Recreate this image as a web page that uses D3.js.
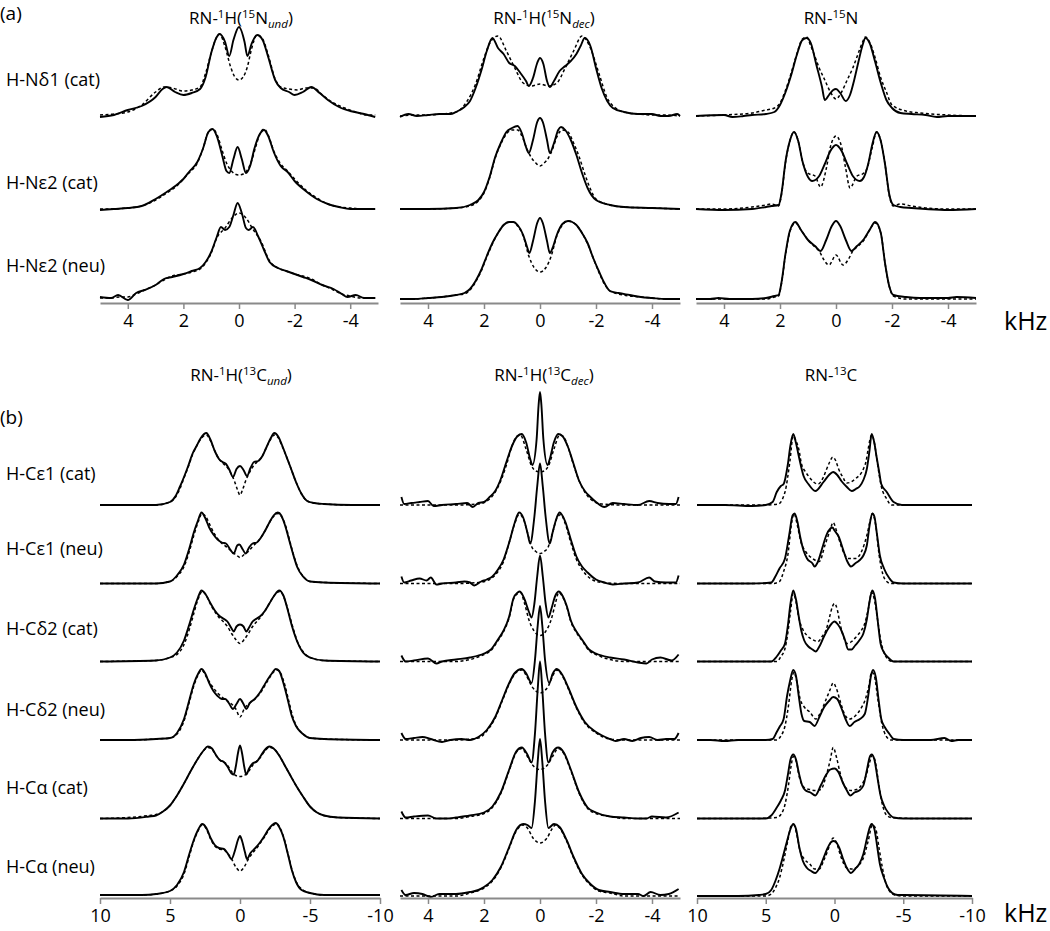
<!DOCTYPE html>
<html><head><meta charset="utf-8">
<script src="https://cdn.jsdelivr.net/npm/d3@7"></script>
<style>
body{margin:0;background:#fff;}
svg{display:block;font-family:"Open Sans",sans-serif;}
</style></head><body>
<svg id="chart" width="1050" height="931"></svg>
<script>
// ---------------- DATA (kHz, intensity) ----------------
// (a) RN-1H(15N und)
const aUndExp1=[[5,-1],[4.5,1],[4,6],[3.5,10],[3,19],[2.75,27],[2.6,29],[2.3,24],[2,21],[1.7,23],[1.4,27],[1.2,39],[1,63],[0.8,79],[0.7,82],[0.5,74],[0.35,60],[0.2,76],[0,89],[-0.2,74],[-0.3,60],[-0.45,72],[-0.65,81],[-0.85,76],[-1.05,59],[-1.3,36],[-1.5,28],[-1.8,24],[-2,21],[-2.3,24],[-2.6,29],[-2.9,23],[-3.2,16],[-3.6,9],[-4,5],[-4.5,2],[-4.9,-1]];
const aUndSim1=[[5,1],[4.5,2],[4,4],[3.5,11],[3,24],[2.7,29],[2.4,28],[2,25],[1.7,26],[1.4,29],[1.2,43],[1,63],[0.8,79],[0.7,82],[0.5,69],[0.3,49],[0.15,39],[0,36],[-0.15,39],[-0.3,49],[-0.45,67],[-0.65,81],[-0.85,77],[-1.05,61],[-1.3,37],[-1.5,29],[-1.8,27],[-2.1,26],[-2.4,28],[-2.7,28],[-3,21],[-3.4,13],[-3.8,8],[-4.2,4],[-4.6,1],[-4.9,1]];
const aUndExp2=[[5,-1],[4.5,0],[4,1],[3.5,3],[3,10],[2.6,17],[2.2,25],[2,30],[1.8,37],[1.5,47],[1.3,60],[1.1,77],[0.95,80],[0.8,73],[0.6,53],[0.45,38],[0.35,36],[0.2,50],[0.05,62],[-0.1,50],[-0.25,36],[-0.4,43],[-0.55,60],[-0.75,75],[-0.9,79],[-1.05,73],[-1.25,57],[-1.5,43],[-1.75,37],[-2,28],[-2.4,18],[-2.8,10],[-3.2,5],[-3.6,2],[-4,0],[-4.5,0],[-4.9,0]];
const aUndSim2=[[5,0],[4.5,0],[4,1],[3.5,3],[3,9],[2.6,16],[2.2,24],[2,30],[1.8,36],[1.5,46],[1.3,60],[1.1,77],[0.95,80],[0.8,75],[0.6,58],[0.45,46],[0.3,39],[0.15,35],[0,34],[-0.15,35],[-0.3,39],[-0.45,48],[-0.6,62],[-0.75,75],[-0.9,80],[-1.05,74],[-1.25,58],[-1.5,45],[-1.75,38],[-2,30],[-2.4,19],[-2.8,11],[-3.2,5],[-3.6,2],[-4,1],[-4.5,0],[-4.9,0]];
const aUndExp3=[[5,2],[4.6,1],[4.35,4],[4,-1],[3.7,6],[3.4,9],[3,14],[2.7,20],[2.4,22],[2,25],[1.7,28],[1.4,31],[1.2,37],[1,47],[0.8,62],[0.65,72],[0.5,69],[0.35,72],[0.2,84],[0.05,96],[-0.1,86],[-0.25,71],[-0.35,69],[-0.5,72],[-0.7,62],[-0.9,49],[-1.1,37],[-1.4,31],[-1.7,28],[-2,25],[-2.3,22],[-2.6,19],[-3,14],[-3.4,10],[-3.7,5],[-3.9,2],[-4.2,4],[-4.5,1],[-4.9,1]];
const aUndSim3=[[5,1],[4.6,1],[4.3,2],[4,2],[3.7,5],[3.4,9],[3,14],[2.7,19],[2.4,23],[2,25],[1.7,27],[1.4,30],[1.2,36],[1,46],[0.8,61],[0.5,71],[0.25,81],[0,86],[-0.25,81],[-0.5,70],[-0.8,57],[-1.1,38],[-1.4,31],[-1.7,28],[-2,25],[-2.3,23],[-2.6,20],[-3,14],[-3.4,9],[-3.7,5],[-4,3],[-4.4,1],[-4.9,1]];
// (a) RN-1H(15N dec)
const aDecExp1=[[5,-1],[4.7,2],[4.4,0],[4,1],[3.6,2],[3.2,2],[3,4],[2.7,9],[2.5,15],[2.3,28],[2.1,45],[1.9,65],[1.7,78],[1.5,68],[1.3,62],[1.1,53],[0.9,50],[0.7,43],[0.5,35],[0.4,30],[0.25,38],[0.1,53],[0,58],[-0.12,52],[-0.25,35],[-0.35,29],[-0.5,35],[-0.7,45],[-0.9,50],[-1.1,55],[-1.3,62],[-1.45,70],[-1.6,78],[-1.8,70],[-2,48],[-2.2,28],[-2.4,15],[-2.6,8],[-3,4],[-3.5,2],[-4,2],[-4.3,0],[-4.6,0],[-4.9,2],[-5,0]];
const aDecSim1=[[5,0],[4.5,1],[4,1],[3.5,2],[3,4],[2.6,15],[2.3,32],[2,58],[1.75,75],[1.5,80],[1.2,65],[0.9,48],[0.6,33],[0.3,30],[0,32],[-0.3,30],[-0.6,33],[-0.9,48],[-1.2,65],[-1.5,80],[-1.8,68],[-2.1,43],[-2.4,18],[-2.7,8],[-3,4],[-3.5,2],[-4,1],[-4.5,1],[-5,0]];
const aDecExp2=[[5,0],[4,0],[3,1],[2.5,4],[2.2,9],[2,17],[1.8,32],[1.6,52],[1.4,66],[1.2,77],[1,81],[0.8,83],[0.65,76],[0.5,62],[0.4,56],[0.25,69],[0.1,87],[0,91],[-0.1,87],[-0.25,69],[-0.35,56],[-0.5,66],[-0.65,79],[-0.75,82],[-0.9,79],[-1.1,69],[-1.3,54],[-1.5,36],[-1.7,21],[-2,9],[-2.5,4],[-3,2],[-4,1],[-5,0]];
const aDecSim2=[[5,0],[4,0],[3,1],[2.5,3],[2.2,8],[2,16],[1.8,31],[1.6,51],[1.4,65],[1.2,75],[1,79],[0.8,79],[0.6,70],[0.45,59],[0.3,51],[0.15,46],[0,43],[-0.15,46],[-0.3,51],[-0.45,60],[-0.6,72],[-0.8,79],[-1,77],[-1.2,66],[-1.4,52],[-1.6,35],[-1.8,20],[-2,10],[-2.5,4],[-3,2],[-4,1],[-5,0]];
const aDecExp3=[[5,0],[4.5,0],[4,1],[3.5,2],[3,4],[2.7,6],[2.5,10],[2.3,18],[2.1,29],[1.9,43],[1.7,56],[1.5,66],[1.3,74],[1.1,77],[0.95,77],[0.8,74],[0.6,64],[0.45,51],[0.38,46],[0.25,58],[0.1,76],[0,81],[-0.1,76],[-0.25,58],[-0.35,46],[-0.45,51],[-0.6,64],[-0.8,75],[-1,78],[-1.15,77],[-1.3,74],[-1.5,66],[-1.7,56],[-1.9,41],[-2.1,28],[-2.3,16],[-2.5,8],[-2.8,6],[-3.2,4],[-3.6,2],[-4,1],[-4.5,0],[-5,0]];
const aDecSim3=[[5,0],[4.5,0],[4,1],[3.5,2],[3,4],[2.7,5],[2.5,9],[2.3,17],[2.1,28],[1.9,42],[1.7,55],[1.5,66],[1.3,74],[1.1,77],[0.95,77],[0.8,73],[0.6,63],[0.4,43],[0.2,31],[0,27],[-0.2,31],[-0.4,43],[-0.6,63],[-0.8,74],[-1,78],[-1.15,77],[-1.3,74],[-1.5,66],[-1.7,55],[-1.9,41],[-2.1,27],[-2.3,15],[-2.5,8],[-2.8,5],[-3.2,3],[-3.6,2],[-4,1],[-4.5,0],[-5,0]];
// (a) RN-15N
const aNExp1=[[5,0],[4,1],[3.7,-1],[3.3,0],[3,1],[2.5,2],[2.2,4],[2,11],[1.8,24],[1.6,41],[1.4,61],[1.2,76],[1.05,78],[0.9,73],[0.7,51],[0.5,29],[0.4,16],[0.25,21],[0.1,26],[0,27],[-0.15,23],[-0.35,15],[-0.5,21],[-0.65,36],[-0.8,54],[-0.95,71],[-1.05,78],[-1.2,73],[-1.4,54],[-1.6,33],[-1.8,16],[-2,8],[-2.3,3],[-2.7,2],[-3.2,1],[-3.6,-1],[-4,0],[-5,0]];
const aNSim1=[[5,0],[4,1],[3,3],[2.5,6],[2.2,8],[2,13],[1.8,26],[1.6,43],[1.4,62],[1.2,77],[1.05,79],[0.9,70],[0.8,63],[0.6,48],[0.4,36],[0.2,24],[0,17],[-0.2,24],[-0.4,36],[-0.6,48],[-0.8,63],[-0.95,74],[-1.05,79],[-1.2,74],[-1.4,58],[-1.6,38],[-1.8,24],[-2,11],[-2.5,5],[-3,3],[-4,1],[-5,0]];
const aNExp2=[[5,0],[4,-1],[3,0],[2.5,2],[2.3,3],[2.05,4],[1.95,15],[1.8,48],[1.65,68],[1.5,77],[1.35,68],[1.2,48],[1,32],[0.85,28],[0.6,33],[0.4,45],[0.2,58],[0,64],[-0.2,58],[-0.4,45],[-0.6,33],[-0.85,28],[-1,32],[-1.15,45],[-1.3,65],[-1.45,77],[-1.6,68],[-1.75,45],[-1.9,15],[-2.05,4],[-2.3,2],[-2.7,1],[-3.2,0],[-4,-1],[-5,0]];
const aNSim2=[[5,0],[4,0],[3,2],[2.5,4],[2.3,5],[2.05,3],[1.95,14],[1.8,47],[1.65,68],[1.5,77],[1.35,68],[1.2,48],[1.05,37],[0.95,35],[0.75,33],[0.55,22],[0.35,40],[0.2,62],[0,73],[-0.2,62],[-0.35,40],[-0.5,21],[-0.75,33],[-0.95,35],[-1.1,40],[-1.3,62],[-1.45,77],[-1.6,68],[-1.75,45],[-1.9,14],[-2.05,3],[-2.3,5],[-2.7,3],[-3.2,1],[-4,0],[-5,0]];
const aNExp3=[[5,0],[4.5,0],[4.2,1],[3.8,0],[3,0],[2.5,1],[2.2,3],[2.05,4],[1.95,16],[1.8,46],[1.65,68],[1.45,77],[1.25,69],[1,59],[0.75,53],[0.55,48],[0.35,59],[0.15,73],[0,78],[-0.15,73],[-0.35,59],[-0.55,48],[-0.75,53],[-1,60],[-1.2,69],[-1.4,77],[-1.6,66],[-1.75,36],[-1.9,13],[-2.05,4],[-2.5,2],[-3,1],[-4,1],[-4.3,2],[-5,1]];
const aNSim3=[[5,0],[4,0],[3,0],[2.5,0],[2.2,2],[2.05,3],[1.95,15],[1.8,45],[1.65,67],[1.45,76],[1.25,69],[1,59],[0.75,52],[0.6,48],[0.45,40],[0.25,34],[0,44],[-0.25,34],[-0.45,40],[-0.6,48],[-0.75,52],[-1,59],[-1.2,69],[-1.4,76],[-1.6,66],[-1.75,36],[-1.9,13],[-2.05,3],[-2.5,0],[-3,0],[-4,0],[-5,0]];
// (b) RN-1H(13C und)
const bUndExp1=[[10,0],[8,0],[6,0],[5,3],[4.6,9],[4.3,18],[4,28],[3.7,39],[3.4,51],[3.1,59],[2.8,67],[2.4,72],[2.1,65],[1.8,54],[1.5,46],[1.25,43],[1,41],[0.75,35],[0.5,28],[0.25,36],[0,39],[-0.25,35],[-0.5,29],[-0.75,37],[-1,43],[-1.3,44],[-1.6,49],[-1.9,58],[-2.2,67],[-2.45,72],[-2.75,68],[-3,60],[-3.3,49],[-3.6,38],[-4,23],[-4.4,11],[-4.8,4],[-5.3,2],[-6,1],[-8,0],[-10,0]];
const bUndSim1=[[10,0],[8,0],[6,0],[5,3],[4.6,8],[4.3,16],[4,27],[3.7,38],[3.4,50],[3.1,59],[2.8,66],[2.4,70],[2.1,64],[1.8,54],[1.5,46],[1.25,42],[1,39],[0.7,33],[0.4,24],[0.2,16],[0,10],[-0.2,16],[-0.4,24],[-0.7,33],[-1,40],[-1.3,44],[-1.6,49],[-1.9,58],[-2.2,66],[-2.45,70],[-2.75,67],[-3,59],[-3.3,49],[-3.6,38],[-4,23],[-4.4,11],[-4.8,4],[-5.3,2],[-6,1],[-8,0],[-10,0]];
const bUndExp2=[[10,0],[6,0],[5,2],[4.5,8],[4,19],[3.6,36],[3.3,51],[3,63],[2.75,71],[2.5,66],[2.2,56],[1.9,49],[1.6,44],[1.3,41],[1,40],[0.7,34],[0.45,30],[0.2,38],[0.05,39],[-0.2,34],[-0.4,30],[-0.65,36],[-0.9,40],[-1.2,41],[-1.5,46],[-1.8,53],[-2.1,61],[-2.4,68],[-2.7,71],[-2.95,68],[-3.2,59],[-3.5,44],[-3.8,29],[-4.1,16],[-4.5,7],[-5,2],[-6,1],[-10,0]];
const bUndSim2=[[10,0],[6,0],[5,2],[4.5,7],[4,17],[3.6,33],[3.3,48],[3,61],[2.7,70],[2.45,67],[2.1,57],[1.8,49],[1.5,43],[1.2,39],[0.9,36],[0.6,32],[0.3,29],[0,26],[-0.3,29],[-0.6,32],[-0.9,37],[-1.2,41],[-1.5,46],[-1.8,53],[-2.1,61],[-2.4,67],[-2.7,70],[-3,66],[-3.3,56],[-3.6,40],[-3.9,25],[-4.2,14],[-4.6,6],[-5,2],[-6,1],[-10,0]];
const bUndExp3=[[10,0],[6,1],[5,4],[4.5,9],[4,21],[3.6,38],[3.3,52],[3,64],[2.75,71],[2.45,67],[2.1,58],[1.8,51],[1.5,46],[1.2,43],[0.9,40],[0.6,33],[0.45,30],[0.25,35],[0,37],[-0.25,35],[-0.45,30],[-0.65,34],[-0.9,40],[-1.2,43],[-1.5,46],[-1.8,51],[-2.1,58],[-2.45,66],[-2.8,71],[-3.1,66],[-3.4,52],[-3.7,36],[-4,23],[-4.5,9],[-5,4],[-6,1],[-10,0]];
const bUndSim3=[[10,0],[6,1],[5,4],[4.5,7],[4,17],[3.6,33],[3.3,48],[3,62],[2.7,70],[2.4,66],[2.1,57],[1.8,50],[1.5,44],[1.2,40],[0.9,35],[0.6,28],[0.3,22],[0,18],[-0.3,22],[-0.6,28],[-0.9,35],[-1.2,40],[-1.5,45],[-1.8,51],[-2.1,58],[-2.5,67],[-2.85,70],[-3.2,62],[-3.5,48],[-3.8,33],[-4.1,20],[-4.5,10],[-5,4],[-6,1],[-10,0]];
const bUndExp4=[[10,0],[8,0],[6,1],[5,2],[4.5,7],[4,21],[3.6,41],[3.3,56],[3,66],[2.75,71],[2.5,67],[2.2,57],[1.9,49],[1.6,44],[1.3,41],[1.05,41],[0.8,37],[0.5,31],[0.25,36],[0,41],[-0.25,36],[-0.45,31],[-0.7,37],[-1.05,41],[-1.4,47],[-1.7,54],[-2,61],[-2.3,67],[-2.55,71],[-2.8,69],[-3.1,57],[-3.4,41],[-3.7,24],[-4,14],[-4.5,6],[-5,2],[-6,1],[-10,0]];
const bUndSim4=[[10,0],[8,0],[6,1],[5,2],[4.5,6],[4,19],[3.6,39],[3.3,54],[3,65],[2.75,70],[2.4,63],[2,54],[1.6,47],[1.2,42],[0.9,39],[0.6,36],[0.3,31],[0,23],[-0.3,31],[-0.6,36],[-0.9,39],[-1.2,43],[-1.5,48],[-1.8,55],[-2.1,62],[-2.4,68],[-2.65,70],[-2.9,67],[-3.2,55],[-3.5,38],[-3.8,22],[-4.1,12],[-4.5,6],[-5,2],[-6,1],[-10,0]];
const bUndExp5=[[10,0],[8,0],[6.5,2],[6,3],[5.5,7],[5,13],[4.5,23],[4,35],[3.5,48],[3,60],[2.6,68],[2.3,72],[2,70],[1.7,63],[1.4,58],[1.2,57],[0.9,52],[0.6,45],[0.45,44],[0.3,52],[0.15,65],[0,73],[-0.15,65],[-0.3,52],[-0.45,44],[-0.65,50],[-0.9,55],[-1.2,57],[-1.5,63],[-1.8,69],[-2.1,72],[-2.4,70],[-2.8,63],[-3.2,53],[-3.6,43],[-4,33],[-4.5,22],[-5,12],[-5.5,6],[-6,3],[-7,1],[-10,0]];
const bUndSim5=[[10,0],[8,1],[6.5,3],[6,4],[5.5,7],[5,13],[4.5,23],[4,35],[3.5,48],[3,60],[2.6,68],[2.3,71],[2,69],[1.7,63],[1.4,58],[1,55],[0.6,47],[0.3,43],[0,42],[-0.3,43],[-0.6,47],[-1,55],[-1.4,60],[-1.8,68],[-2.1,71],[-2.4,70],[-2.8,63],[-3.2,53],[-3.6,43],[-4,33],[-4.5,22],[-5,12],[-5.5,6],[-6,3],[-7,1],[-10,0]];
const bUndExp6=[[10,1],[8,1],[7,1],[6,2],[5,5],[4.5,11],[4,24],[3.6,43],[3.3,56],[3,66],[2.7,72],[2.4,68],[2.1,58],[1.8,51],[1.5,48],[1.15,47],[0.9,43],[0.6,37],[0.35,46],[0.15,56],[0,60],[-0.15,55],[-0.35,44],[-0.5,37],[-0.75,43],[-1.1,48],[-1.4,53],[-1.7,59],[-2,66],[-2.3,71],[-2.55,73],[-2.8,69],[-3.1,59],[-3.4,43],[-3.7,26],[-4,14],[-4.4,6],[-5,3],[-6,1],[-10,1]];
const bUndSim6=[[10,1],[8,1],[7,1],[6,2],[5,5],[4.5,10],[4,22],[3.6,41],[3.3,55],[3,65],[2.7,71],[2.4,67],[2.1,57],[1.8,50],[1.5,47],[1.15,46],[0.9,43],[0.6,37],[0.3,29],[0,25],[-0.3,29],[-0.6,37],[-0.9,43],[-1.2,48],[-1.5,54],[-1.8,60],[-2.1,67],[-2.4,71],[-2.65,72],[-2.9,67],[-3.2,55],[-3.5,38],[-3.8,22],[-4.1,12],[-4.5,6],[-5,3],[-6,1],[-10,1]];
// (b) RN-1H(13C dec)
const bDecExp1=[[4.95,8],[4.85,1],[4.6,2],[4.3,3],[4,4],[3.8,-1],[3.5,0],[3,1],[2.6,2],[2.4,-2],[2.2,2],[2,3],[1.8,8],[1.6,14],[1.4,26],[1.2,43],[1,59],[0.8,69],[0.65,71],[0.5,63],[0.35,46],[0.27,40],[0.12,66],[0.05,100],[0,113],[-0.05,100],[-0.12,66],[-0.27,40],[-0.35,46],[-0.5,63],[-0.65,71],[-0.8,69],[-1,58],[-1.2,41],[-1.4,24],[-1.6,14],[-1.8,8],[-2,3],[-2.3,-2],[-2.6,2],[-3,1],[-3.5,0],[-3.9,4],[-4.2,2],[-4.6,1],[-4.85,1],[-4.95,8]];
const bDecSim1=[[5,0],[3,0],[2.2,1],[1.8,6],[1.6,13],[1.4,24],[1.2,40],[1,59],[0.85,68],[0.7,70],[0.5,56],[0.3,39],[0.15,34],[0,33],[-0.15,34],[-0.3,39],[-0.5,56],[-0.7,70],[-0.85,68],[-1,58],[-1.2,40],[-1.4,24],[-1.6,13],[-1.8,6],[-2.2,1],[-3,0],[-5,0]];
const bDecExp2=[[4.95,7],[4.85,1],[4.6,3],[4.3,5],[4.05,3],[3.9,6],[3.7,-1],[3.5,0],[3,1],[2.7,2],[2.5,1],[2.35,-2],[2.1,2],[1.9,4],[1.7,7],[1.5,14],[1.3,24],[1.1,41],[0.9,61],[0.75,71],[0.6,66],[0.45,51],[0.35,40],[0.2,67],[0.1,97],[0,120],[-0.1,97],[-0.2,67],[-0.35,40],[-0.45,51],[-0.6,66],[-0.7,71],[-0.9,62],[-1.1,44],[-1.3,27],[-1.5,17],[-1.7,11],[-2,4],[-2.3,1],[-2.6,-1],[-3,0],[-3.5,1],[-3.9,6],[-4.1,2],[-4.5,1],[-4.85,1],[-4.95,8]];
const bDecSim2=[[5,0],[3,0],[2.2,1],[1.8,4],[1.5,12],[1.3,22],[1.1,41],[0.9,60],[0.75,69],[0.6,65],[0.45,51],[0.3,37],[0.15,32],[0,30],[-0.15,32],[-0.3,37],[-0.45,51],[-0.6,65],[-0.75,69],[-0.9,60],[-1.1,41],[-1.3,24],[-1.5,14],[-1.8,5],[-2.2,1],[-3,0],[-5,0]];
const bDecExp3=[[4.95,6],[4.8,0],[4.5,1],[4,3],[3.7,-2],[3.5,0],[3,2],[2.5,4],[2,8],[1.75,12],[1.5,22],[1.3,31],[1.1,45],[0.95,63],[0.8,69],[0.72,70],[0.55,62],[0.4,50],[0.3,44],[0.2,58],[0.1,85],[0,106],[-0.1,85],[-0.2,58],[-0.3,44],[-0.4,52],[-0.55,66],[-0.67,70],[-0.8,66],[-0.95,56],[-1.1,41],[-1.3,30],[-1.5,22],[-1.75,12],[-2,8],[-2.5,4],[-3,2],[-3.5,-1],[-3.8,-2],[-4,2],[-4.3,4],[-4.7,1],[-4.95,7]];
const bDecSim3=[[5,0],[3,0],[2.5,2],[2,7],[1.75,11],[1.5,21],[1.3,30],[1.1,44],[0.95,62],[0.8,68],[0.7,69],[0.55,58],[0.4,42],[0.2,30],[0,26],[-0.2,30],[-0.4,42],[-0.55,58],[-0.67,69],[-0.8,65],[-0.95,55],[-1.1,40],[-1.3,29],[-1.5,21],[-1.75,11],[-2,7],[-2.5,2],[-3,0],[-5,0]];
const bDecExp4=[[4.95,7],[4.8,1],[4.5,2],[4.2,3],[3.9,1],[3.5,-2],[3.2,0],[2.8,1],[2.5,0],[2.2,3],[1.9,10],[1.6,23],[1.35,40],[1.1,57],[0.9,67],[0.65,71],[0.5,67],[0.3,57],[0.18,80],[0.08,115],[0,134],[-0.08,115],[-0.18,80],[-0.33,57],[-0.45,66],[-0.6,71],[-0.8,65],[-1,53],[-1.3,33],[-1.6,18],[-2,8],[-2.5,1],[-2.7,-1],[-3,1],[-3.3,-1],[-3.6,2],[-3.9,3],[-4.2,0],[-4.5,1],[-4.8,1],[-4.95,7]];
const bDecSim4=[[5,0],[3,0],[2.2,2],[1.9,9],[1.6,22],[1.35,39],[1.1,56],[0.9,66],[0.65,70],[0.5,65],[0.3,54],[0.15,49],[0,47],[-0.15,49],[-0.3,54],[-0.45,64],[-0.6,70],[-0.8,64],[-1,52],[-1.3,32],[-1.6,17],[-2,7],[-2.5,1],[-3,0],[-5,0]];
const bDecExp5=[[4.95,7],[4.8,1],[4.5,2],[4,3],[3.7,0],[3.3,0],[3,1],[2.5,3],[2,6],[1.7,12],[1.4,26],[1.1,49],[0.85,67],[0.65,71],[0.45,64],[0.3,56],[0.18,85],[0.08,130],[0,157],[-0.08,130],[-0.18,85],[-0.3,56],[-0.45,66],[-0.65,71],[-0.85,66],[-1.1,49],[-1.4,26],[-1.7,11],[-2,6],[-2.5,2],[-3,1],[-3.5,0],[-3.8,0],[-4,2],[-4.5,1],[-4.95,6]];
const bDecSim5=[[5,0],[3,0],[2.5,2],[2,5],[1.7,11],[1.4,25],[1.1,48],[0.85,66],[0.65,70],[0.45,62],[0.25,53],[0,49],[-0.25,53],[-0.45,62],[-0.65,70],[-0.85,65],[-1.1,48],[-1.4,25],[-1.7,10],[-2,5],[-2.5,2],[-3,0],[-5,0]];
const bDecExp6=[[4.95,6],[4.8,1],[4.5,3],[4.2,2],[3.9,-1],[3.6,2],[3.3,2],[3,2],[2.5,4],[2.2,6],[2,9],[1.7,16],[1.4,29],[1.1,49],[0.85,66],[0.6,72],[0.45,71],[0.3,68],[0.18,95],[0.08,135],[0,157],[-0.08,135],[-0.18,95],[-0.3,68],[-0.5,72],[-0.7,69],[-0.95,56],[-1.2,39],[-1.5,22],[-1.8,12],[-2.1,6],[-2.5,4],[-3,2],[-3.5,2],[-3.7,0],[-3.95,4],[-4.3,1],[-4.6,2],[-4.95,7]];
const bDecSim6=[[5,0],[3,0],[2.5,3],[2,8],[1.7,15],[1.4,28],[1.1,48],[0.85,65],[0.6,71],[0.45,68],[0.25,58],[0,53],[-0.25,58],[-0.45,68],[-0.55,71],[-0.7,68],[-0.95,55],[-1.2,38],[-1.5,21],[-1.8,11],[-2.1,5],[-2.5,3],[-3,0],[-5,0]];
// (b) RN-13C
const bCExp1=[[10,0],[8,0],[6,-1],[5,0],[4.5,3],[4.2,13],[3.9,19],[3.7,21],[3.4,40],[3.2,60],[3,71],[2.8,62],[2.6,49],[2.25,29],[1.9,21],[1.4,14],[0.8,23],[0.4,30],[0.1,33],[-0.2,30],[-0.5,24],[-0.9,18],[-1.25,14],[-1.55,16],[-1.85,19],[-2.1,25],[-2.35,36],[-2.55,55],[-2.7,71],[-2.9,62],[-3.05,49],[-3.25,33],[-3.4,21],[-3.8,13],[-4.3,3],[-4.9,0],[-6,0],[-8,0],[-10,0]];
const bCSim1=[[10,0],[8,0],[6,0],[5,0],[4.1,1],[3.6,13],[3.25,43],[3,69],[2.8,64],[2.6,56],[2.4,41],[2.1,33],[1.9,29],[1.2,21],[0.8,28],[0.57,36],[0.35,43],[0.13,48],[-0.1,44],[-0.3,36],[-0.6,28],[-0.9,22],[-1.2,23],[-1.5,26],[-2.1,36],[-2.3,44],[-2.45,56],[-2.7,70],[-2.9,62],[-3.05,49],[-3.25,30],[-3.4,19],[-3.8,6],[-4.15,0],[-6,0],[-8,0],[-10,0]];
const bCExp2=[[10,0],[8,0],[6,0],[4.6,1],[4.3,7],[4,15],[3.6,25],[3.3,48],[3.05,68],[2.9,70],[2.7,62],[2.5,47],[2.25,33],[2,25],[1.6,20],[1.45,17],[1.2,22],[0.9,35],[0.6,48],[0.3,55],[0.15,56],[0,53],[-0.3,47],[-0.6,35],[-0.9,23],[-1.2,17],[-1.5,20],[-1.8,23],[-2.1,28],[-2.35,38],[-2.55,58],[-2.75,70],[-2.9,67],[-3.1,48],[-3.3,28],[-3.6,15],[-4,5],[-4.3,1],[-5,0],[-8,0],[-10,0]];
const bCSim2=[[10,0],[8,0],[6,0],[4.5,0],[4,2],[3.7,12],[3.4,28],[3.1,62],[2.95,70],[2.7,58],[2.45,42],[2.1,32],[1.6,25],[1.1,22],[0.7,38],[0.35,52],[0.1,61],[-0.2,50],[-0.6,33],[-1,25],[-1.5,25],[-2,33],[-2.35,48],[-2.6,63],[-2.75,70],[-3,58],[-3.25,28],[-3.5,10],[-3.8,2],[-4.1,0],[-6,0],[-8,0],[-10,0]];
const bCExp3=[[10,0],[6,0],[4.6,0],[4.2,5],[3.9,11],[3.6,18],[3.4,35],[3.2,58],[3,71],[2.8,62],[2.6,45],[2.4,30],[2.2,21],[1.9,15],[1.6,12],[1.37,10],[1.1,15],[0.8,24],[0.5,32],[0.2,38],[0,40],[-0.25,37],[-0.5,31],[-0.75,22],[-1,12],[-1.25,12],[-1.5,16],[-1.85,22],[-2.1,28],[-2.35,42],[-2.55,60],[-2.75,71],[-2.95,63],[-3.15,40],[-3.35,18],[-3.6,9],[-3.9,4],[-4.3,0],[-6,0],[-10,0]];
const bCSim3=[[10,0],[6,0],[4.2,0],[3.9,5],[3.6,13],[3.4,28],[3.2,50],[3,68],[2.8,60],[2.6,44],[2.3,32],[2,26],[1.6,22],[1.2,20],[0.9,25],[0.6,32],[0.35,45],[0.15,55],[0,58],[-0.2,52],[-0.4,38],[-0.65,25],[-0.9,18],[-1.25,20],[-1.6,25],[-1.9,30],[-2.2,38],[-2.45,52],[-2.7,69],[-2.9,62],[-3.1,45],[-3.35,22],[-3.6,9],[-3.9,2],[-4.2,0],[-6,0],[-10,0]];
const bCExp4=[[10,0],[9,0],[8,-1],[7,0],[6,0],[5,0],[4.5,1],[4.2,8],[4,13],[3.7,21],[3.45,44],[3.25,58],[3,70],[2.8,64],[2.6,44],[2.4,26],[2.2,19],[1.8,18],[1.45,14],[1.1,23],[0.75,33],[0.4,39],[0.1,43],[-0.2,41],[-0.5,32],[-0.8,21],[-1.1,14],[-1.45,18],[-1.85,21],[-2.2,26],[-2.45,44],[-2.65,64],[-2.8,70],[-3,63],[-3.2,41],[-3.4,21],[-3.65,13],[-4,6],[-4.3,1],[-5,0],[-7,0],[-8,2],[-8.5,-1],[-9,0],[-10,0]];
const bCSim4=[[10,0],[6,0],[4.2,0],[3.9,4],[3.6,14],[3.35,34],[3.1,61],[2.95,68],[2.75,59],[2.5,41],[2.2,33],[1.8,28],[1.35,21],[1,28],[0.6,41],[0.3,51],[0.1,57],[-0.15,51],[-0.45,37],[-0.8,24],[-1.1,21],[-1.5,24],[-1.9,31],[-2.25,41],[-2.5,54],[-2.7,68],[-2.9,64],[-3.15,41],[-3.45,16],[-3.75,4],[-4.1,0],[-6,0],[-10,0]];
const bCExp5=[[10,0],[6,0],[5,0],[4.6,3],[4.2,11],[3.9,18],[3.6,28],[3.4,43],[3.2,59],[3,64],[2.8,59],[2.6,46],[2.35,33],[2.1,28],[1.75,26],[1.4,23],[1,33],[0.6,44],[0.3,49],[0,50],[-0.3,46],[-0.6,36],[-0.9,28],[-1.15,23],[-1.45,26],[-1.8,28],[-2.1,33],[-2.35,48],[-2.55,61],[-2.7,64],[-2.9,59],[-3.1,43],[-3.35,23],[-3.6,13],[-3.9,6],[-4.3,1],[-5,0],[-10,0]];
const bCSim5=[[10,0],[6,0],[4.2,1],[3.9,4],[3.6,14],[3.35,33],[3.15,53],[3,62],[2.8,58],[2.55,41],[2.2,31],[1.8,29],[1.4,28],[1,29],[0.6,43],[0.3,59],[0.1,71],[-0.15,61],[-0.4,46],[-0.8,31],[-1.2,28],[-1.6,29],[-2,34],[-2.3,43],[-2.55,56],[-2.75,63],[-2.95,58],[-3.2,36],[-3.45,16],[-3.75,4],[-4.1,1],[-6,0],[-10,0]];
const bCExp6=[[10,0],[7,0],[5.5,1],[5,2],[4.6,6],[4.3,15],[4,27],[3.7,42],[3.45,55],[3.2,67],[3,72],[2.8,67],[2.55,48],[2.3,35],[2,28],[1.7,25],[1.4,23],[1.1,28],[0.8,38],[0.5,48],[0.3,53],[0.1,55],[-0.1,54],[-0.35,48],[-0.6,38],[-0.9,28],[-1.2,23],[-1.5,27],[-1.8,32],[-2.1,42],[-2.35,57],[-2.55,68],[-2.7,72],[-2.9,67],[-3.1,50],[-3.3,32],[-3.6,18],[-3.9,8],[-4.2,3],[-4.6,1],[-5,1],[-10,0]];
const bCSim6=[[10,0],[7,0],[5,0],[4.6,2],[4.3,8],[4,18],[3.7,35],[3.4,55],[3.15,70],[2.95,71],[2.75,62],[2.5,45],[2.2,37],[1.8,32],[1.45,27],[1.1,27],[0.8,35],[0.5,45],[0.3,53],[0.1,58],[-0.15,53],[-0.5,38],[-0.9,28],[-1.3,27],[-1.7,30],[-2.1,38],[-2.45,55],[-2.75,71],[-3,67],[-3.25,47],[-3.5,27],[-3.75,12],[-4,5],[-4.4,1],[-5,0],[-10,0]];

// labels and ticks
const rowLabelsA=["H-N\u03B41 (cat)","H-N\u03B52 (cat)","H-N\u03B52 (neu)"];
const rowLabelsB=["H-C\u03B51 (cat)","H-C\u03B51 (neu)","H-C\u03B42 (cat)","H-C\u03B42 (neu)","H-C\u03B1 (cat)","H-C\u03B1 (neu)"];
const ticksNarrow=[4,2,0,-2,-4];
const ticksWide=[10,5,0,-5,-10];
const domainNarrow=[5,-5];
const domainWide=[10,-10];
// title segments: [text, kind]
const titlesA=[
  [["RN-",""],["1","sup"],["H(",""],["15","sup"],["N",""],["und","sub"],[")",""]],
  [["RN-",""],["1","sup"],["H(",""],["15","sup"],["N",""],["dec","sub"],[")",""]],
  [["RN-",""],["15","sup"],["N",""]]
];
const titlesB=[
  [["RN-",""],["1","sup"],["H(",""],["13","sup"],["C",""],["und","sub"],[")",""]],
  [["RN-",""],["1","sup"],["H(",""],["13","sup"],["C",""],["dec","sub"],[")",""]],
  [["RN-",""],["13","sup"],["C",""]]
];
const expA=[[aUndExp1,aUndExp2,aUndExp3],[aDecExp1,aDecExp2,aDecExp3],[aNExp1,aNExp2,aNExp3]];
const simA=[[aUndSim1,aUndSim2,aUndSim3],[aDecSim1,aDecSim2,aDecSim3],[aNSim1,aNSim2,aNSim3]];
const expB=[[bUndExp1,bUndExp2,bUndExp3,bUndExp4,bUndExp5,bUndExp6],[bDecExp1,bDecExp2,bDecExp3,bDecExp4,bDecExp5,bDecExp6],[bCExp1,bCExp2,bCExp3,bCExp4,bCExp5,bCExp6]];
const simB=[[bUndSim1,bUndSim2,bUndSim3,bUndSim4,bUndSim5,bUndSim6],[bDecSim1,bDecSim2,bDecSim3,bDecSim4,bDecSim5,bDecSim6],[bCSim1,bCSim2,bCSim3,bCSim4,bCSim5,bCSim6]];

// ---------------- LAYOUT ----------------
const svg=d3.select("#chart");
const FONT='"Open Sans", sans-serif';
const sections=[
  {letter:"(a)", letterY:13, titleY:24, titles:titlesA, labels:rowLabelsA,
   baselines:[116,209,299], labelY:[80,183,266], axisY:303, kHzY:321,
   cols:[{domain:domainNarrow,range:[100,378],ticks:ticksNarrow,cx:241},
         {domain:domainNarrow,range:[400,680],ticks:ticksNarrow,cx:544},
         {domain:domainNarrow,range:[696,976],ticks:ticksNarrow,cx:831}],
   exp:expA, sim:simA},
  {letter:"(b)", letterY:417, titleY:381, titles:titlesB, labels:rowLabelsB,
   baselines:[505,583.5,661.5,740,818.5,896], labelY:[474,549,629,710,788,867], axisY:898, kHzY:913,
   cols:[{domain:domainWide,range:[100,380],ticks:ticksWide,cx:241},
         {domain:domainNarrow,range:[400,680],ticks:ticksNarrow,cx:544},
         {domain:domainWide,range:[697,972],ticks:ticksWide,cx:831}],
   exp:expB, sim:simB}
];

sections.forEach(sec=>{
  const g=svg.append("g");
  g.append("text").attr("x",0).attr("y",sec.letterY).attr("dy","0.35em")
    .style("font-size","19px").style("font-family",FONT).text(sec.letter);
  sec.labels.forEach((lab,i)=>{
    g.append("text").attr("x",6).attr("y",sec.labelY[i]).attr("dy","0.35em")
      .style("font-size","18px").style("font-family",FONT).text(lab);
  });
  sec.cols.forEach((col,ci)=>{
    const x=d3.scaleLinear().domain(col.domain).range(col.range);
    // title
    const t=g.append("text").attr("x",col.cx).attr("y",sec.titleY).attr("text-anchor","middle")
      .style("font-size","17px").style("font-family",FONT);
    let shift=0;
    sec.titles[ci].forEach(([s,kind])=>{
      const target = kind==="sup"?-6:(kind==="sub"?4:0);
      const ts=t.append("tspan").attr("dy",target-shift).text(s);
      if(kind) ts.style("font-size","11.5px");
      if(kind==="sub") ts.style("font-style","italic");
      shift=target;
    });
    // spectra
    sec.baselines.forEach((b,ri)=>{
      const y=d3.scaleLinear().domain([0,100]).range([b,b-100]);
      const line=d3.line().x(d=>x(d[0])).y(d=>y(d[1])).curve(d3.curveMonotoneX);
      g.append("path").attr("d",line(sec.sim[ci][ri])).attr("fill","none")
        .attr("stroke","#000").attr("stroke-width",1.5).attr("stroke-dasharray","3,2.5");
      g.append("path").attr("d",line(sec.exp[ci][ri])).attr("fill","none")
        .attr("stroke","#000").attr("stroke-width",1.9).attr("stroke-linejoin","round");
    });
    // axis
    const ax=g.append("g").attr("transform",`translate(0,${sec.axisY})`)
      .call(d3.axisBottom(x).tickValues(col.ticks).tickSize(6).tickSizeOuter(0).tickPadding(5).tickFormat(d=>String(d)));
    ax.select(".domain").attr("stroke","#8a8a8a").attr("stroke-width",2);
    ax.selectAll(".tick line").attr("stroke","#8a8a8a").attr("stroke-width",1.5);
    ax.selectAll(".tick text").attr("fill","#000").style("font-size","18px").style("font-family",FONT);
  });
  g.append("text").attr("x",1004).attr("y",sec.kHzY).attr("dy","0.35em")
    .style("font-size","25px").style("font-family",FONT).text("kHz");
});
</script>
</body></html>
